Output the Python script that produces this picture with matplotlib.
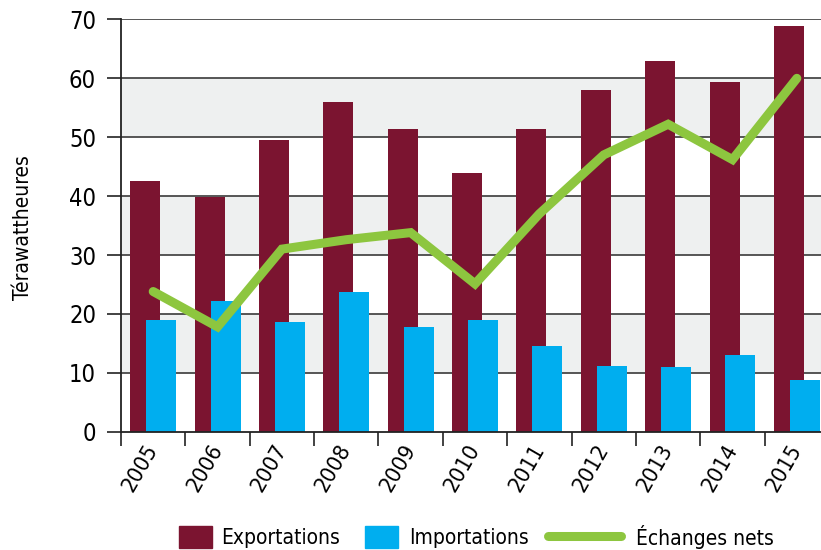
import numpy as np
import matplotlib
matplotlib.use("Agg")
import matplotlib.pyplot as plt
from matplotlib import font_manager as fm
from matplotlib.patches import Patch
from matplotlib.lines import Line2D

# a condensed sans if one is installed, otherwise Liberation Sans
names = {f.name for f in fm.fontManager.ttflist}
stretches = {(f.name, f.stretch) for f in fm.fontManager.ttflist}
if 'Liberation Sans Narrow' in names:
    plt.rcParams['font.family'] = ['Liberation Sans Narrow', 'DejaVu Sans']
elif ('DejaVu Sans', 'condensed') in stretches:
    plt.rcParams['font.family'] = ['DejaVu Sans']
    plt.rcParams['font.stretch'] = 'condensed'
else:
    plt.rcParams['font.family'] = ['Liberation Sans', 'DejaVu Sans']

# data (TWh)
years = ['2005', '2006', '2007', '2008', '2009', '2010',
         '2011', '2012', '2013', '2014', '2015']
exports = [42.5, 39.8, 49.5, 56.0, 51.4, 44.0, 51.4, 58.0, 62.9, 59.3, 68.8]
imports = [18.9, 22.2, 18.7, 23.8, 17.8, 19.0, 14.6, 11.2, 11.0, 13.1, 8.8]
net = [23.8, 17.8, 31.0, 32.6, 33.8, 25.1, 37.0, 47.0, 52.2, 46.2, 60.0]

c_exp = '#7b1430'
c_imp = '#00aeef'
c_net = '#8dc63f'
c_band = '#eef0f0'
c_grid = '#3a3a3a'

fig = plt.figure(figsize=(8.21, 5.5), dpi=100)
ax = fig.add_axes([0.1474, 0.2151, 0.8624, 0.7496])

x = np.arange(len(years))
w = 0.466
off = 0.124

# alternating grey bands
for lo in (10, 30, 50):
    ax.axhspan(lo, lo + 10, color=c_band, lw=0, zorder=0)
for v in range(10, 71, 10):
    ax.axhline(v, color=c_grid, lw=1.2, zorder=1)

ax.bar(x - off, exports, w, color=c_exp, zorder=2)
ax.bar(x + off, imports, w, color=c_imp, zorder=3)
ax.plot(x, net, color=c_net, lw=6.5, solid_capstyle='round',
        solid_joinstyle='miter', zorder=4)

ax.set_xlim(-0.5, len(years) - 0.5)
ax.set_ylim(0, 70)
ax.set_yticks(range(0, 71, 10))
ax.set_xticks(np.arange(len(years) + 1) - 0.5)
ax.set_xticklabels([])
ax.set_xticks(x, minor=True)
ax.set_xticklabels(years, minor=True, rotation=60, ha='right', va='center',
                   rotation_mode='anchor')
ax.tick_params(axis='x', which='minor', length=0, pad=10, labelsize=16)
ax.tick_params(axis='x', which='major', length=10, width=1.2, color='#222222')
ax.tick_params(axis='y', length=10, width=1.2, color='#222222', pad=8,
               labelsize=17)

for s in ('top', 'right'):
    ax.spines[s].set_visible(False)
ax.spines['left'].set_color('#222222')
ax.spines['left'].set_linewidth(1.3)
ax.spines['bottom'].set_color('#222222')
ax.spines['bottom'].set_linewidth(1.3)
ax.spines['bottom'].set_zorder(5)

fig.text(0.028, 1 - 228 / 550, 'Térawattheures', rotation=90,
         ha='center', va='center', fontsize=15)

# one legend per entry so each sits where the reference puts it
handles = [Patch(color=c_exp, label='Exportations'),
           Patch(color=c_imp, label='Importations'),
           Line2D([0], [0], color=c_net, lw=6.5, solid_capstyle='round',
                  label='Échanges nets')]
anchors = [179, 365, 548]
lengths = [1.6, 1.6, 3.5]
pads = [0.43, 0.5, 0.7]
for h, a, hl, tp in zip(handles, anchors, lengths, pads):
    leg = fig.legend(handles=[h], loc='center left',
                     bbox_to_anchor=(a / 821, 13 / 550), frameon=False,
                     fontsize=15, borderpad=0, borderaxespad=0,
                     handlelength=hl, handleheight=1.25, handletextpad=tp)

fig.savefig('out.png', dpi=100)
